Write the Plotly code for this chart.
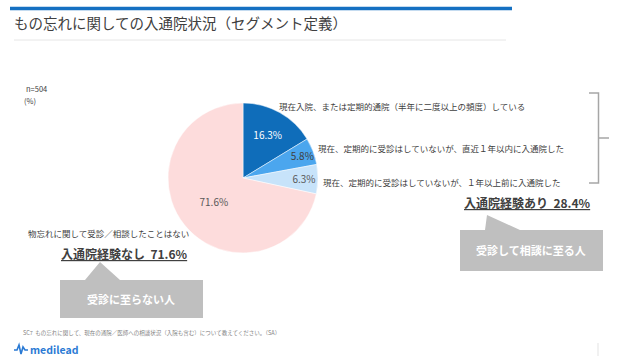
import plotly.graph_objects as go

# ---- data ----
categories = [
    "現在入院、または定期的通院（半年に二度以上の頻度）している",
    "現在、定期的に受診はしていないが、直近１年以内に入通院した",
    "現在、定期的に受診はしていないが、１年以上前に入通院した",
    "物忘れに関して受診／相談したことはない",
]
values = [16.3, 5.8, 6.3, 71.6]
colors = ["#0F6DBA", "#4BA6EE", "#C7E3FA", "#FDDCDC"]
text_colors = ["#FFFFFF", "#404040", "#595959", "#595959"]

title = "もの忘れに関しての入通院状況（セグメント定義）"
n_label = "n=504"
unit_label = "(%)"
footnote = "SC7  もの忘れに関して、現在の通院／医師への相談状況（入院も含む）について教えてください。（SA）"
yes_label = "入通院経験あり"
no_label = "入通院経験なし"
yes_callout = "受診して相談に至る人"
no_callout = "受診に至らない人"

W, H = 640, 360
FONT = "Noto Sans CJK JP, Noto Sans, sans-serif"

yes_total = round(sum(values[:3]), 1)
no_total = values[3]

# pie geometry (pixels)
cx, cy, r = 243, 178, 75

fig = go.Figure()
fig.add_trace(go.Pie(
    values=values,
    labels=categories,
    sort=False,
    direction="clockwise",
    rotation=0,
    marker=dict(colors=colors, line=dict(color="#FFFFFF", width=0.5)),
    texttemplate="%{value:.1f}%",
    textposition="inside",
    insidetextorientation="horizontal",
    textfont=dict(family=FONT, size=10, color=text_colors),
    hoverinfo="skip",
    showlegend=False,
    domain=dict(x=[(cx - r) / W, (cx + r) / W], y=[1 - (cy + r) / H, 1 - (cy - r) / H]),
))

fig.update_layout(
    width=W, height=H,
    margin=dict(l=0, r=0, t=0, b=0),
    paper_bgcolor="white", plot_bgcolor="white",
    xaxis=dict(range=[0, W], visible=False, fixedrange=True),
    yaxis=dict(range=[H, 0], visible=False, fixedrange=True),
    uniformtext=dict(minsize=10, mode="show"),
    font=dict(family=FONT),
)

shapes = []
# top blue bar
shapes.append(dict(type="line", x0=10, x1=512, y0=8.5, y1=8.5, line=dict(color="#1570C2", width=3.5)))
# title underline
shapes.append(dict(type="line", x0=14, x1=506, y0=40, y1=40, line=dict(color="#E6E6E6", width=1)))
# bracket
shapes.append(dict(type="path", path="M 589 93 L 598.5 93 L 598.5 183 L 589 183",
                   line=dict(color="#A6A6A6", width=1.5)))
shapes.append(dict(type="line", x0=598.5, x1=609, y0=138, y1=138, line=dict(color="#A6A6A6", width=1.5)))
# right callout
shapes.append(dict(type="path", path="M 460 230 L 485 230 L 487 215 L 520 230 L 603 230 L 603 271 L 460 271 Z",
                   fillcolor="#BFBFBF", line=dict(width=0)))
# left callout
shapes.append(dict(type="path", path="M 60 280 L 85 280 L 100 262 L 120 280 L 203 280 L 203 318 L 60 318 Z",
                   fillcolor="#BFBFBF", line=dict(width=0)))
# logo icon
shapes.append(dict(type="path", path="M 14 350 L 17 350 L 19 345 L 21 354 L 23 347 L 25 350 L 28 350",
                   line=dict(color="#2A7AD4", width=1.6)))
# small vertical mark bottom right
shapes.append(dict(type="line", x0=598, x1=598, y0=343, y1=356, line=dict(color="#E3E3E3", width=1)))
fig.update_layout(shapes=shapes)

def ann(x, y, text, size, color="#404040", xanchor="left"):
    fig.add_annotation(x=x, y=y, xref="x", yref="y", text=text, showarrow=False,
                       xanchor=xanchor, yanchor="middle",
                       font=dict(family=FONT, size=size, color=color))

ann(12, 22, title, 14.5, "#404040")
ann(24, 88, n_label, 7.5, "#404040")
ann(22, 100, unit_label, 7.5, "#404040")
ann(277, 106, categories[0], 8.5, "#404040")
ann(316, 148, categories[1], 8.5, "#404040")
ann(321, 182, categories[2], 8.5, "#404040")
ann(462, 202, f"<b><u>{yes_label}  {yes_total:.1f}%</u></b>", 12, "#404040")
ann(26, 233, categories[3], 8.5, "#404040")
ann(59, 253, f"<b><u>{no_label}  {no_total:.1f}%</u></b>", 12, "#404040")
ann(531, 250, f"<b>{yes_callout}</b>", 11, "#FFFFFF", xanchor="center")
ann(131, 299, f"<b>{no_callout}</b>", 11, "#FFFFFF", xanchor="center")
ann(21, 333, footnote, 5.5, "#7F7F7F")
ann(28, 349, "<b>medilead</b>", 10.5, "#2A7AD4")

fig.write_html("out.html", config={"displayModeBar": False},
               post_script="document.body.style.margin='0px';")
